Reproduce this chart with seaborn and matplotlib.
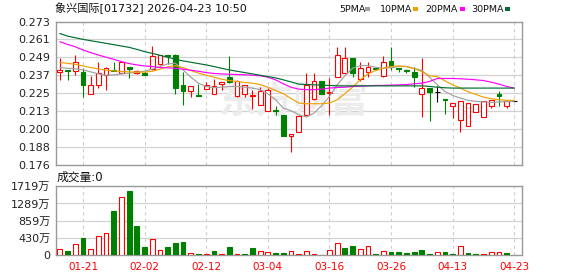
import numpy as np
import pandas as pd
import matplotlib
matplotlib.use("Agg")
import matplotlib.pyplot as plt
import seaborn as sns
from matplotlib.patches import Rectangle

sns.set_theme(style="white")
plt.rcParams["font.family"] = ["DejaVu Sans", "Noto Sans CJK SC"]

title = "象兴国际[01732] 2026-04-23 10:50"
vol_title = "成交量:0"
watermark = "东方财富"

open_ = [0.2387, 0.2402, 0.2398, 0.2391, 0.2238, 0.2299, 0.2369, 0.2402, 0.2380, 0.2420,
         0.2380, 0.2380, 0.2409, 0.2440, 0.2503, 0.2503, 0.2301, 0.2256, 0.2232, 0.2276,
         0.2238, 0.2306, 0.2353, 0.2223, 0.2238, 0.2227, 0.2162, 0.2122, 0.2133, 0.2099,
         0.1953, 0.1982, 0.2099, 0.2205, 0.2324, 0.2247, 0.2353, 0.2380, 0.2481, 0.2339,
         0.2387, 0.2418, 0.2362, 0.2463, 0.2413, 0.2402, 0.2391, 0.2238, 0.2279, 0.2252,
         0.2205, 0.2160, 0.2066, 0.2025, 0.2117, 0.2083, 0.2160, 0.2241, 0.2160, 0.2191]
high = [0.2481, 0.2402, 0.2503, 0.2413, 0.2362, 0.2458, 0.2425, 0.2458, 0.2458, 0.2420,
        0.2402, 0.2398, 0.2564, 0.2503, 0.2503, 0.2508, 0.2391, 0.2292, 0.2306, 0.2319,
        0.2339, 0.2321, 0.2497, 0.2335, 0.2301, 0.2268, 0.2285, 0.2279, 0.2155, 0.2099,
        0.1969, 0.2099, 0.2384, 0.2384, 0.2324, 0.2346, 0.2559, 0.2559, 0.2481, 0.2458,
        0.2458, 0.2418, 0.2497, 0.2559, 0.2413, 0.2407, 0.2420, 0.2481, 0.2279, 0.2290,
        0.2205, 0.2178, 0.2193, 0.2178, 0.2171, 0.2193, 0.2196, 0.2256, 0.2193, 0.2191]
low = [0.2335, 0.2335, 0.2369, 0.2216, 0.2238, 0.2279, 0.2263, 0.2396, 0.2380, 0.2346,
       0.2375, 0.2366, 0.2402, 0.2436, 0.2440, 0.2238, 0.2162, 0.2218, 0.2225, 0.2272,
       0.2238, 0.2263, 0.2312, 0.2218, 0.2216, 0.2140, 0.2162, 0.2122, 0.2099, 0.1953,
       0.1845, 0.1982, 0.2099, 0.2200, 0.2241, 0.2099, 0.2353, 0.2380, 0.2357, 0.2324,
       0.2357, 0.2407, 0.2357, 0.2402, 0.2387, 0.2380, 0.2285, 0.2083, 0.2054, 0.2182,
       0.2103, 0.2075, 0.1982, 0.2025, 0.2117, 0.2083, 0.2145, 0.2155, 0.2145, 0.2191]
close = [0.2402, 0.2398, 0.2456, 0.2301, 0.2303, 0.2380, 0.2413, 0.2396, 0.2454, 0.2407,
         0.2398, 0.2366, 0.2499, 0.2503, 0.2499, 0.2279, 0.2256, 0.2292, 0.2225, 0.2297,
         0.2290, 0.2321, 0.2317, 0.2330, 0.2297, 0.2234, 0.2261, 0.2263, 0.2126, 0.1953,
         0.1969, 0.2092, 0.2297, 0.2324, 0.2241, 0.2252, 0.2503, 0.2481, 0.2384, 0.2413,
         0.2420, 0.2407, 0.2458, 0.2425, 0.2409, 0.2398, 0.2357, 0.2279, 0.2250, 0.2252,
         0.2200, 0.2178, 0.2193, 0.2178, 0.2171, 0.2189, 0.2196, 0.2223, 0.2191, 0.2191]
# volume in 万 (10k shares)
volume = [142, 100, 267, 425, 142, 467, 542, 1100, 1441, 1600,
          725, 200, 392, 117, 200, 295, 325, 45, 25, 30,
          100, 30, 200, 30, 25, 175, 100, 67, 50, 50,
          95, 25, 92, 25, 8, 117, 308, 175, 225, 142,
          217, 25, 92, 75, 75, 50, 75, 125, 25, 67,
          67, 25, 233, 42, 25, 17, 67, 67, 42, 0]

ma5 = [0.2418, 0.2413, 0.2409, 0.2402, 0.2389, 0.2375, 0.2366, 0.2369, 0.2375, 0.2380,
       0.2387, 0.2393, 0.2407, 0.2425, 0.2443, 0.2447, 0.2402, 0.2353, 0.2312, 0.2290,
       0.2281, 0.2285, 0.2290, 0.2290, 0.2285, 0.2279, 0.2268, 0.2241, 0.2200, 0.2144,
       0.2126, 0.2099, 0.2083, 0.2110, 0.2160, 0.2223, 0.2301, 0.2362, 0.2413, 0.2431,
       0.2431, 0.2420, 0.2413, 0.2418, 0.2425, 0.2425, 0.2413, 0.2398, 0.2353, 0.2301,
       0.2256, 0.2229, 0.2211, 0.2196, 0.2189, 0.2185, 0.2182, 0.2185, 0.2187, 0.2191]
ma10 = [0.2452, 0.2447, 0.2440, 0.2429, 0.2418, 0.2409, 0.2400, 0.2396, 0.2391, 0.2389,
        0.2387, 0.2387, 0.2393, 0.2407, 0.2423, 0.2431, 0.2418, 0.2398, 0.2380, 0.2366,
        0.2353, 0.2339, 0.2330, 0.2324, 0.2317, 0.2312, 0.2303, 0.2285, 0.2263, 0.2241,
        0.2209, 0.2178, 0.2173, 0.2173, 0.2173, 0.2178, 0.2200, 0.2241, 0.2285, 0.2335,
        0.2375, 0.2398, 0.2413, 0.2425, 0.2429, 0.2425, 0.2411, 0.2391, 0.2362, 0.2357,
        0.2328, 0.2301, 0.2279, 0.2254, 0.2236, 0.2218, 0.2207, 0.2200, 0.2196, 0.2196]
ma20 = [0.2593, 0.2575, 0.2559, 0.2537, 0.2519, 0.2503, 0.2488, 0.2474, 0.2458, 0.2445,
        0.2436, 0.2429, 0.2425, 0.2418, 0.2416, 0.2413, 0.2407, 0.2400, 0.2393, 0.2384,
        0.2378, 0.2375, 0.2373, 0.2371, 0.2369, 0.2366, 0.2362, 0.2353, 0.2335, 0.2308,
        0.2285, 0.2272, 0.2268, 0.2268, 0.2272, 0.2279, 0.2283, 0.2285, 0.2290, 0.2292,
        0.2294, 0.2297, 0.2297, 0.2299, 0.2301, 0.2303, 0.2308, 0.2312, 0.2324, 0.2344,
        0.2344, 0.2344, 0.2342, 0.2339, 0.2335, 0.2330, 0.2319, 0.2306, 0.2290, 0.2279]
ma30 = [0.2649, 0.2631, 0.2620, 0.2609, 0.2600, 0.2591, 0.2582, 0.2573, 0.2564, 0.2555,
        0.2541, 0.2526, 0.2514, 0.2501, 0.2488, 0.2474, 0.2463, 0.2454, 0.2445, 0.2436,
        0.2425, 0.2413, 0.2402, 0.2393, 0.2384, 0.2375, 0.2366, 0.2357, 0.2348, 0.2335,
        0.2321, 0.2306, 0.2303, 0.2301, 0.2299, 0.2297, 0.2294, 0.2294, 0.2294, 0.2294,
        0.2294, 0.2294, 0.2294, 0.2294, 0.2294, 0.2294, 0.2294, 0.2294, 0.2290, 0.2285,
        0.2281, 0.2279, 0.2279, 0.2279, 0.2279, 0.2279, 0.2279, 0.2279, 0.2279, 0.2279]

ma_names = ["5PMA", "10PMA", "20PMA", "30PMA"]
ma_colors = ["#a0a0a0", "#f0a000", "#ff00ff", "#006e30"]

date_labels = ["01-21", "02-02", "02-12", "03-04", "03-16", "03-26", "04-13", "04-23"]
price_labels = ["0.176", "0.188", "0.200", "0.213", "0.225", "0.237", "0.249", "0.261", "0.273"]
vol_labels = ["0", "430万", "859万", "1289万", "1719万"]
price_min, price_max = 0.176, 0.273
vol_max = 1719

RED = "#ff0000"
GREEN = "#008000"
GRID = "#d2d2d2"
SPINE = "#999999"

df = pd.DataFrame({"open": open_, "high": high, "low": low, "close": close, "vol": volume,
                   "ma5": ma5, "ma10": ma10, "ma20": ma20, "ma30": ma30})
df["idx"] = np.arange(len(df))
n = len(df)

W, H = 578, 276
fig = plt.figure(figsize=(W / 100, H / 100), dpi=100)
fig.patch.set_facecolor("white")

def fx(px):
    return px / W

def fy(py):
    return 1 - py / H

ax = fig.add_axes([fx(56), fy(164.7), fx(522) - fx(56), fy(21.5) - fy(164.7)])
axv = fig.add_axes([fx(56), fy(255), fx(522) - fx(56), fy(186.3) - fy(255)])

tick_idx = list(range(3, n, 8))[:len(date_labels)]

for a in (ax, axv):
    a.set_facecolor("white")
    a.set_xlim(-0.5, 60.0)
    for s in a.spines.values():
        s.set_color(SPINE)
        s.set_linewidth(1.0)
    a.set_xticks(tick_idx)
    a.grid(False)
    for t in tick_idx:
        a.axvline(t, color="#cfcfcf", lw=0.8, ls=(0, (3, 3)), zorder=0.5)

# ---- price panel ----
ax.set_ylim(price_min, price_max)
pticks = np.linspace(price_min, price_max, len(price_labels))
ax.set_yticks(pticks)
ax.set_yticklabels(price_labels)
for y in pticks[1:-1]:
    ax.axhline(y, color=GRID, lw=0.9, zorder=0.5)
ax.tick_params(axis="y", length=0, pad=4, labelsize=8, labelcolor="#222222")
ax.tick_params(axis="x", length=0, labelbottom=False)

ax.text(0.51, 0.44, watermark, transform=ax.transAxes, fontsize=27, color="#ececec",
        fontweight="bold", style="italic", ha="center", va="center", zorder=0.6,
        family=["Noto Sans CJK SC"])

body_w = 0.62
up = df["close"] > df["open"]
down = df["close"] < df["open"]
edge_colors = np.where(up, RED, np.where(down, GREEN, "#000000"))
face_colors = np.where(up, "white", np.where(down, GREEN, "#000000"))

ax.vlines(df["idx"], df["low"], df["high"], colors=edge_colors, lw=0.8, zorder=2)
bottoms = np.minimum(df["open"], df["close"])
heights = np.abs(df["close"] - df["open"])
ax.bar(df["idx"], heights, bottom=bottoms, width=body_w, color=face_colors,
       edgecolor=edge_colors, linewidth=0.8, zorder=3)

for col, c in zip(["ma5", "ma10", "ma20", "ma30"], ma_colors):
    sns.lineplot(data=df, x="idx", y=col, ax=ax, color=c, lw=0.85, zorder=4, legend=False)
ax.set_xlabel("")
ax.set_ylabel("")

# ---- volume panel ----
axv.set_ylim(0, vol_max)
vticks = np.linspace(0, vol_max, len(vol_labels))
axv.set_yticks(vticks)
axv.set_yticklabels(vol_labels)
for y in vticks[1:-1]:
    axv.axhline(y, color=GRID, lw=0.9, zorder=0.5)
axv.tick_params(axis="y", length=0, pad=4, labelsize=8, labelcolor="#222222")
axv.set_xticklabels(date_labels)
axv.tick_params(axis="x", length=0, pad=5, labelsize=7.5, labelcolor=RED)

prev_close = df["close"].shift(1)
vol_up = np.where(prev_close.isna(), df["close"] >= df["open"], df["close"] >= prev_close)
v_edge = np.where(vol_up, RED, GREEN)
v_face = np.where(vol_up, "white", GREEN)
axv.bar(df["idx"], df["vol"], width=body_w, color=v_face, edgecolor=v_edge,
        linewidth=0.8, zorder=3)

# ---- texts ----
fig.text(fx(55), fy(8.5), title, fontsize=8, color="#111111", ha="left", va="center")
fig.text(fx(57), fy(177.5), vol_title, fontsize=8.5, color="#111111", ha="left", va="center")

legend_x = [339, 380, 425, 471]
marker_x = [365, 413, 460, 505]
for name, c, lx, mx in zip(ma_names, ma_colors, legend_x, marker_x):
    fig.text(fx(lx), fy(9), name, fontsize=6.8, color="#111111", ha="left", va="center")
    fig.add_artist(Rectangle((fx(mx), fy(10.5)), fx(5), fy(7.5) - fy(10.5),
                             transform=fig.transFigure, facecolor=c, edgecolor="none"))

fig.savefig("out.png", dpi=100, facecolor="white")
